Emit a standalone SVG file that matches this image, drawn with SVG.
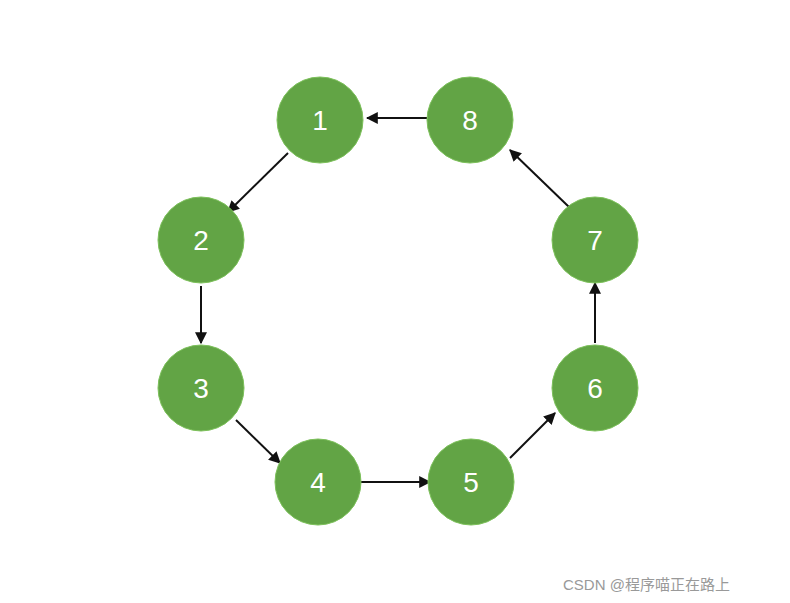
<svg xmlns="http://www.w3.org/2000/svg" width="790" height="603" viewBox="0 0 790 603">
<style>
.n circle{fill:#62a445;stroke:#7cc05a;stroke-width:1}
.n text{font-family:"Liberation Sans",Arial,sans-serif;font-size:28px;fill:#fff;text-anchor:middle;dominant-baseline:central}
.c line{stroke:#111;stroke-width:2;marker-end:url(#a)}
</style>
<defs><marker id="a" viewBox="0 0 10 10" refX="9" refY="5" markerWidth="6" markerHeight="6" markerUnits="strokeWidth" orient="auto"><path d="M0,0L10,5L0,10z" fill="#111"/></marker></defs>
<rect width="790" height="603" fill="#fff"/>
<g class="c">
<line x1="427" y1="118" x2="367" y2="118"/>
<line x1="288" y1="153" x2="228" y2="212"/>
<line x1="201" y1="286" x2="201" y2="343"/>
<line x1="236" y1="420" x2="280" y2="463"/>
<line x1="361" y1="482" x2="430" y2="482"/>
<line x1="510" y1="458" x2="555" y2="413"/>
<line x1="595" y1="343" x2="595" y2="283"/>
<line x1="569" y1="207" x2="510" y2="150"/>
</g>
<g id="n1" class="n"><circle cx="320" cy="120" r="43"/><text x="320" y="120">1</text></g>
<g id="n8" class="n"><circle cx="470" cy="120" r="43"/><text x="470" y="120">8</text></g>
<g id="n2" class="n"><circle cx="201" cy="240" r="43"/><text x="201" y="240">2</text></g>
<g id="n7" class="n"><circle cx="595" cy="240" r="43"/><text x="595" y="240">7</text></g>
<g id="n3" class="n"><circle cx="201" cy="388" r="43"/><text x="201" y="388">3</text></g>
<g id="n6" class="n"><circle cx="595" cy="388" r="43"/><text x="595" y="388">6</text></g>
<g id="n4" class="n"><circle cx="318" cy="482" r="43"/><text x="318" y="482">4</text></g>
<g id="n5" class="n"><circle cx="471" cy="482" r="43"/><text x="471" y="482">5</text></g>
<text x="563" y="590" font-family="'Liberation Sans','Noto Sans CJK SC',sans-serif" font-size="15" fill="#999">CSDN @程序喵正在路上</text>
</svg>
